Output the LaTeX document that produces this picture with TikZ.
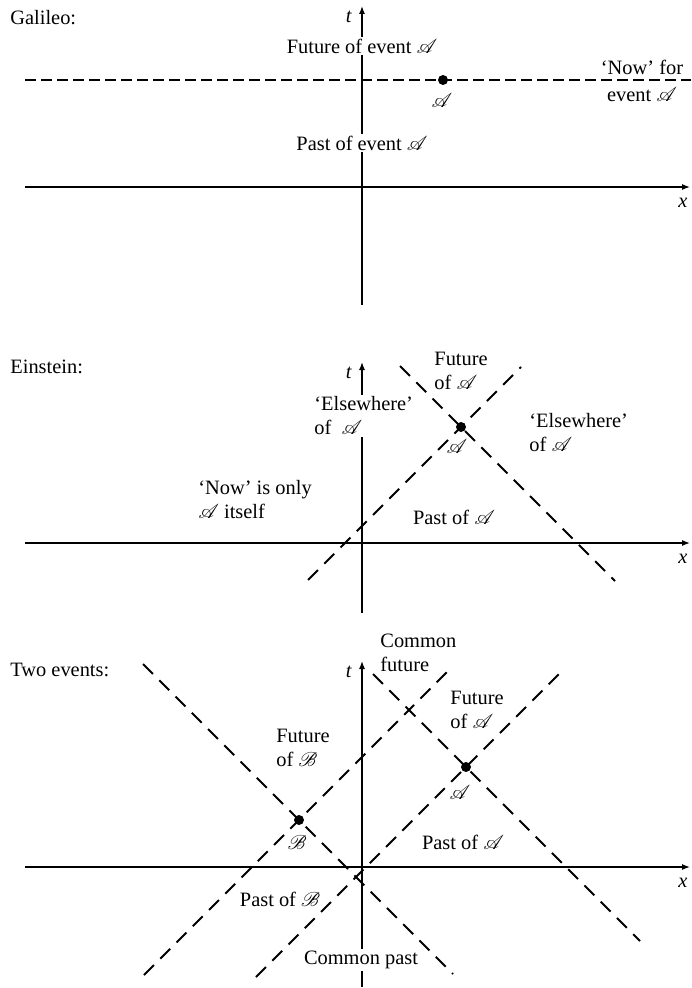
\documentclass[tikz,border=0pt]{standalone}
\usepackage{fontspec}
\setmainfont{Liberation Serif}
\usepackage{mathrsfs}
\usetikzlibrary{arrows.meta,calc}
\newcommand{\evA}{$\mathscr{A}$}
\newcommand{\evB}{$\mathscr{B}$}
\begin{document}
\begin{tikzpicture}[x=0.5pt,y=-0.5pt,
axis/.style={line width=0.65pt,-{Latex[length=4pt,width=3pt]}},
cone/.style={line width=0.95pt,dash pattern=on 7pt off 4.5pt},
nowline/.style={line width=0.95pt,dash pattern=on 5.5pt off 2.5pt},
event/.style={circle,fill,inner sep=0pt,minimum size=5pt},
lbl/.style={inner sep=1pt,font=\fontsize{10.2}{12}\selectfont}]
\useasboundingbox(0,0)rectangle(691,988);
\foreach \i/\oy/\tp/\bt in {1/187/6/305,2/543/362/613,3/867/661/987}{
\draw[axis](362,\bt)--(362,\tp);
\draw[axis](25,\oy)--(690,\oy);
\node[lbl](t\i)at(349,\tp+11){\textit{t}};
\node[lbl](x\i)at(683,\oy+16){\textit{x}};}
\node[lbl,anchor=west](gal)at(8,18){Galileo:};
\coordinate(A1)at(443,80);
\draw[nowline](25,80)--(691,80);
\node[event](dA1)at(A1){};
\node[lbl](lA1)at(442,101){\evA};
\node[lbl,fill=white](futA1)at(362,46){Future of event \evA};
\node[lbl,fill=white](pastA1)at(362,143){Past of event \evA};
\node[lbl,align=center](nowA1)at(642,81){`Now' for\\[1.5pt]event \evA};
\node[lbl,anchor=west](ein)at(8,367){Einstein:};
\coordinate(A2)at(461,427);
\draw[cone]($(A2)+(-153,153)$)--($(A2)+(60,-60)$);
\draw[cone]($(A2)+(-61,-61)$)--($(A2)+(154,154)$);
\node[event](dA2)at(A2){};
\node[lbl](lA2)at(457,446){\evA};
\node[lbl,align=left,anchor=west](futA2)at(432,371){Future\\of \evA};
\node[lbl,align=left,anchor=west,fill=white](elsL)at(312,416){`Elsewhere'\\of~~\evA};
\node[lbl,align=left,anchor=west](elsR)at(527,433){`Elsewhere'\\of \evA};
\node[lbl,align=left,anchor=west](nowA2)at(196,500){`Now' is only\\\evA{} itself};
\node[lbl](pastA2)at(454,517){Past of \evA};
\node[lbl,anchor=west](two)at(8,670){Two events:};
\coordinate(A3)at(466,767);
\coordinate(B3)at(299,820);
\draw[cone]($(A3)+(-210,210)$)--($(A3)+(97,-97)$);
\draw[cone]($(A3)+(-93,-93)$)--($(A3)+(174,174)$);
\draw[cone]($(B3)+(-155,155)$)--($(B3)+(154,-154)$);
\draw[cone]($(B3)+(-156,-156)$)--($(B3)+(154,154)$);
\node[event](dA3)at(A3){};
\node[event](dB3)at(B3){};
\node[lbl](lA3)at(460,792){\evA};
\node[lbl](lB3)at(297,842){\evB};
\node[lbl,align=left,anchor=west](comF)at(378,653){Common\\future};
\node[lbl,align=left,anchor=west](futA3)at(448,710){Future\\of \evA};
\node[lbl,align=left,anchor=west](futB3)at(274,748){Future\\of \evB};
\node[lbl](pastA3)at(463,842){Past of \evA};
\node[lbl](pastB3)at(280,899){Past of \evB};
\node[lbl,fill=white](comP)at(361,960){Common past};
\end{tikzpicture}
\end{document}
